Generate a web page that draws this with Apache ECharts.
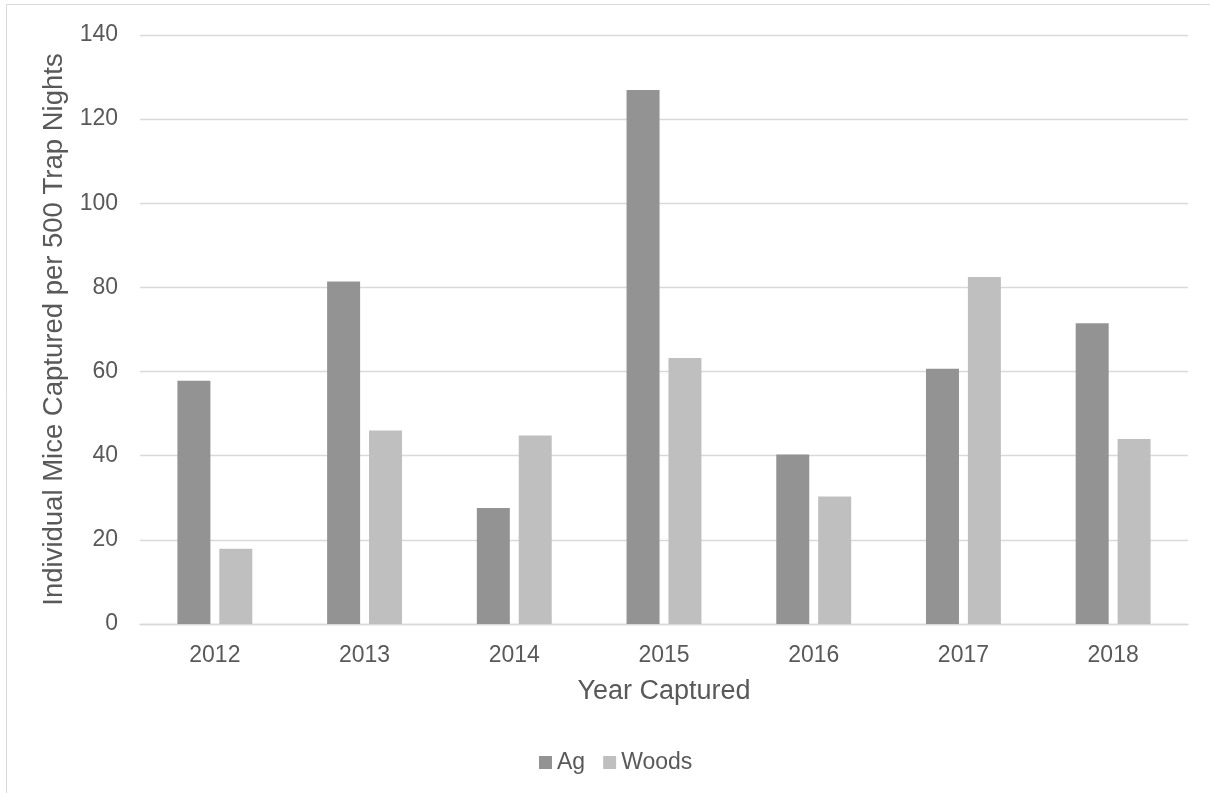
<!DOCTYPE html>
<html>
<head>
<meta charset="utf-8">
<script src="https://cdn.jsdelivr.net/npm/echarts@6/dist/echarts.min.js"></script>
<style>
  html, body { margin: 0; padding: 0; background: #ffffff; }
  #chart { width: 1210px; height: 793px; }
</style>
</head>
<body>
<div id="chart"></div>
<script>
// Mice captured per 500 trap nights, by year and habitat
const years = ['2012', '2013', '2014', '2015', '2016', '2017', '2018'];
const agValues = [57.8, 81.4, 27.6, 126.9, 40.3, 60.7, 71.5];
const woodsValues = [17.9, 46.0, 44.8, 63.2, 30.3, 82.5, 44.0];
const seriesNames = ['Ag', 'Woods'];
const yAxisTitle = 'Individual Mice Captured per 500 Trap Nights';
const xAxisTitle = 'Year Captured';

const textColor = '#595959';
const fontFamily = '"Liberation Sans", Arial, sans-serif';

const chart = echarts.init(document.getElementById('chart'), null, { renderer: 'canvas' });

chart.setOption({
  backgroundColor: '#ffffff',
  animation: false,
  textStyle: { fontFamily: fontFamily, color: textColor },
  graphic: [{
    type: 'rect',
    shape: { x: 6.5, y: 4.5, width: 1240, height: 820 },
    style: { fill: 'none', stroke: '#d9d9d9', lineWidth: 1 },
    silent: true
  }],
  grid: { left: 140, right: 22, top: 35, bottom: 169, containLabel: false },
  legend: {
    data: seriesNames,
    left: 534,
    top: 746,
    icon: 'rect',
    itemWidth: 13,
    itemHeight: 13,
    itemGap: 18,
    itemStyle: { borderWidth: 0 },
    textStyle: { fontSize: 23, color: textColor, fontFamily: fontFamily }
  },
  xAxis: {
    type: 'category',
    data: years,
    name: xAxisTitle,
    nameLocation: 'middle',
    nameGap: 54,
    nameTextStyle: { fontSize: 27, color: textColor, fontFamily: fontFamily },
    axisLine: { show: true, lineStyle: { color: '#d9d9d9', width: 1.3 } },
    axisTick: { show: false },
    axisLabel: { fontSize: 23, color: textColor, margin: 20, fontFamily: fontFamily }
  },
  yAxis: {
    type: 'value',
    min: 0,
    max: 140,
    interval: 20,
    name: yAxisTitle,
    nameLocation: 'middle',
    nameGap: 72,
    nameRotate: 90,
    nameTextStyle: { fontSize: 27.5, color: textColor, fontFamily: fontFamily },
    axisLine: { show: false },
    axisTick: { show: false },
    axisLabel: { fontSize: 23, color: textColor, margin: 22, fontFamily: fontFamily },
    splitLine: { show: true, lineStyle: { color: '#d9d9d9', width: 1.3 } }
  },
  series: [
    {
      name: seriesNames[0],
      type: 'bar',
      data: agValues,
      barWidth: 33,
      barGap: '27%',
      itemStyle: { color: '#939393' }
    },
    {
      name: seriesNames[1],
      type: 'bar',
      data: woodsValues,
      barWidth: 33,
      barGap: '27%',
      itemStyle: { color: '#bfbfbf' }
    }
  ]
});
</script>
</body>
</html>
